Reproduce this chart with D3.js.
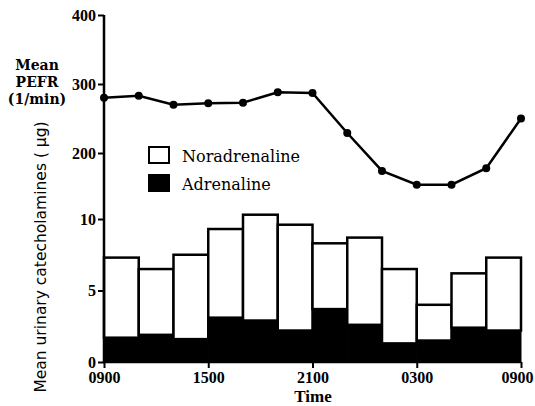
<!DOCTYPE html>
<html>
<head>
<meta charset="utf-8">
<script src="https://cdnjs.cloudflare.com/ajax/libs/d3/7.8.5/d3.min.js"></script>
<style>
  body { margin: 0; background: #fff; }
  svg { display: block; }
</style>
</head>
<body>
<svg width="535" height="406"></svg>
<script>
// data
var hours = [0, 2, 4, 6, 8, 10, 12, 14, 16, 18, 20, 22, 24];   // hours after 0900
var pefr = [280, 283, 270, 272, 273, 288, 287, 229, 174, 154, 154, 178, 250];
var adrenaline = [1.7, 1.9, 1.6, 3.1, 2.9, 2.2, 3.7, 2.6, 1.3, 1.5, 2.4, 2.2];
var noradrenaline = [5.6, 4.6, 5.9, 6.2, 7.4, 7.4, 4.6, 6.1, 5.2, 2.5, 3.8, 5.1];
var timeTicks = [0, 6, 12, 18, 24];
var timeLabels = ["0900", "1500", "2100", "0300", "0900"];
var pefrTicks = [200, 300, 400];
var amountTicks = [0, 5, 10];

var svg = d3.select("svg");

var x = d3.scaleLinear().domain([0, 24]).range([104, 521]);
var yBar = d3.scaleLinear().domain([0, 10]).range([362, 219]);
var yPefr = d3.scaleLinear().domain([200, 400]).range([153, 15]);

var bars = adrenaline.map(function (a, i) {
    return { start: i * 2, end: i * 2 + 2, adr: a, nor: noradrenaline[i] };
});

// bars: adrenaline (black) below, noradrenaline (white, outlined) on top
var g = svg.append("g");
g.selectAll(".nor")
    .data(bars)
    .enter().append("rect")
    .attr("class", "nor")
    .attr("x", function (d) { return x(d.start); })
    .attr("width", function (d) { return x(d.end) - x(d.start); })
    .attr("y", function (d) { return yBar(d.adr + d.nor); })
    .attr("height", function (d) { return yBar(d.adr) - yBar(d.adr + d.nor); })
    .style("fill", "#fff")
    .style("stroke", "#000")
    .style("stroke-width", 2.5);
g.selectAll(".adr")
    .data(bars)
    .enter().append("rect")
    .attr("class", "adr")
    .attr("x", function (d) { return x(d.start); })
    .attr("width", function (d) { return x(d.end) - x(d.start); })
    .attr("y", function (d) { return yBar(d.adr); })
    .attr("height", function (d) { return yBar(0) - yBar(d.adr); })
    .style("fill", "#000")
    .style("stroke", "#000")
    .style("stroke-width", 1);

// PEFR line
var pts = hours.map(function (h, i) { return [h, pefr[i]]; });
var line = d3.line()
    .x(function (d) { return x(d[0]); })
    .y(function (d) { return yPefr(d[1]); });
svg.append("path")
    .datum(pts)
    .attr("d", line)
    .style("fill", "none")
    .style("stroke", "#000")
    .style("stroke-width", 2.5);
svg.selectAll(".dot")
    .data(pts)
    .enter().append("circle")
    .attr("class", "dot")
    .attr("cx", function (d) { return x(d[0]); })
    .attr("cy", function (d) { return yPefr(d[1]); })
    .attr("r", 4)
    .style("fill", "#000");

// axes
function styleAxis(sel) {
    sel.select(".domain").remove();
    sel.selectAll(".tick line").style("stroke", "#000").style("stroke-width", 2);
    sel.selectAll(".tick text")
        .style("font-family", "'Liberation Serif', serif")
        .style("font-weight", "bold")
        .style("font-size", "16px")
        .style("fill", "#000");
}
svg.append("g")
    .attr("transform", "translate(104,0)")
    .call(d3.axisLeft(yPefr).tickValues(pefrTicks).tickSize(6).tickPadding(2))
    .call(styleAxis);
svg.append("g")
    .attr("transform", "translate(104,0)")
    .call(d3.axisLeft(yBar).tickValues(amountTicks).tickSize(6).tickPadding(2))
    .call(styleAxis);
var xAxis = svg.append("g")
    .attr("transform", "translate(0,362)")
    .call(d3.axisBottom(x).tickValues(timeTicks)
        .tickFormat(function (d, i) { return timeLabels[i]; })
        .tickSize(6).tickPadding(4))
    .call(styleAxis);
// keep the last label inside the picture
xAxis.selectAll(".tick text")
    .filter(function (d) { return d === 24; })
    .attr("dx", -4);

svg.append("line")
    .attr("x1", 104).attr("x2", 104)
    .attr("y1", yPefr(400)).attr("y2", yBar(0) + 1)
    .style("stroke", "#000").style("stroke-width", 2.5);
svg.append("line")
    .attr("x1", 103).attr("x2", x(24))
    .attr("y1", yBar(0)).attr("y2", yBar(0))
    .style("stroke", "#000").style("stroke-width", 2.5);

// axis titles
var pefrTitle = svg.append("text")
    .attr("text-anchor", "middle")
    .style("font-family", "'DejaVu Serif', serif")
    .style("font-weight", "bold")
    .style("font-size", "14px");
["Mean", "PEFR", "(1/min)"].forEach(function (t, i) {
    pefrTitle.append("tspan").attr("x", 37).attr("y", 70 + i * 17).text(t);
});

svg.append("text")
    .attr("transform", "translate(46,257) rotate(-90)")
    .attr("text-anchor", "middle")
    .style("font-family", "'DejaVu Sans', sans-serif")
    .style("font-size", "15.5px")
    .text("Mean urinary catecholamines ( \u03bcg)");

svg.append("text")
    .attr("x", 313).attr("y", 402)
    .attr("text-anchor", "middle")
    .style("font-family", "'Liberation Serif', serif")
    .style("font-weight", "bold")
    .style("font-size", "17px")
    .text("Time");

// legend
var legend = [
    { label: "Noradrenaline", fill: "#fff", y: 147 },
    { label: "Adrenaline", fill: "#000", y: 175 }
];
var lg = svg.selectAll(".legend")
    .data(legend)
    .enter().append("g")
    .attr("class", "legend");
lg.append("rect")
    .attr("x", 149).attr("y", function (d) { return d.y; })
    .attr("width", 20).attr("height", 16)
    .style("fill", function (d) { return d.fill; })
    .style("stroke", "#000").style("stroke-width", 2);
lg.append("text")
    .attr("x", 182).attr("y", function (d) { return d.y + 15; })
    .style("font-family", "'DejaVu Serif', serif")
    .style("font-size", "16px")
    .text(function (d) { return d.label; });
</script>
</body>
</html>
